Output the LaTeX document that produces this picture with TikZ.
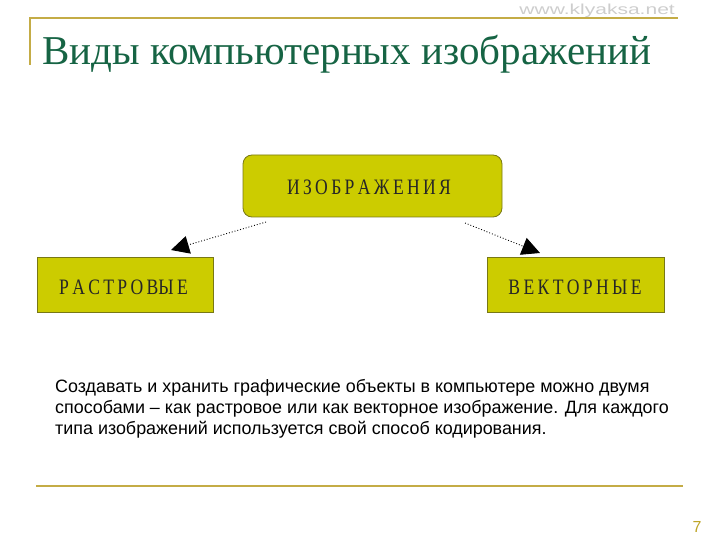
\documentclass[tikz,border=0pt]{standalone}
\usepackage{fontspec}
\setmainfont{Liberation Serif}
\setsansfont{Liberation Sans}
\usetikzlibrary{arrows.meta}
\definecolor{gold}{RGB}{196,172,70}
\definecolor{titlegreen}{RGB}{22,100,68}
\definecolor{boxfill}{RGB}{204,204,0}
\definecolor{boxline}{RGB}{120,120,20}
\definecolor{wmark}{RGB}{205,205,205}
\definecolor{pagenum}{RGB}{190,165,40}
\newcommand{\cattxt}[1]{\scalebox{0.8}[1]{\spaceskip=0.19em\relax #1}}
\tikzset{
  goldline/.style={draw=gold,line width=2pt},
  catbox/.style={fill=boxfill,draw=boxline,line width=0.8pt,inner sep=0pt},
  cattext/.style={font=\fontsize{22}{24}\selectfont,text=black!85},
  link/.style={dotted,line width=0.9pt,-{Triangle[length=18pt,width=18pt]}}
}
\begin{document}
\begin{tikzpicture}[x=1pt,y=-1pt]
\useasboundingbox (0,0) rectangle (720,540);
% frame lines
\draw[goldline] (30,65) -- (30,18) -- (678,18);
\draw[goldline] (36,486) -- (683,486);
% watermark
\node[text=wmark,font=\sffamily\fontsize{14.5}{14.5}\selectfont,anchor=east,inner sep=0pt] (wm) at (675,11) {\scalebox{1.45}[1]{www.klyaksa.net}};
% title
\node[text=titlegreen,font=\fontsize{41}{43}\selectfont,anchor=base west,inner sep=0pt] (title) at (42,65) {Виды компьютерных изображений};
% boxes
\node[catbox,rounded corners=9pt,minimum width=259pt,minimum height=62pt] (img) at (372.5,186) {};
\node[cattext] (imgt) at (369,187) {\cattxt{И З О Б Р А Ж Е Н И Я}};
\node[catbox,minimum width=176pt,minimum height=55pt] (ras) at (125,284.5) {};
\node[cattext] (rast) at (123.5,287) {\cattxt{Р А С Т Р О ВЫ Е}};
\node[catbox,minimum width=177pt,minimum height=55pt] (vec) at (575.5,284.5) {};
\node[cattext] (vect) at (575,287) {\cattxt{В Е К Т О Р Н Ы Е}};
% connectors
\coordinate (la) at (266,222);
\coordinate (lb) at (171,250);
\coordinate (ra) at (465,223);
\coordinate (rb) at (540,253);
\draw[link] (la) -- (lb);
\draw[link] (ra) -- (rb);
% body text
\node[font=\sffamily\fontsize{17.9}{21}\selectfont,anchor=north west,inner sep=0pt,align=left] (body) at (55,379)
{Создавать и хранить графические объекты в компьютере можно двумя\\
способами – как растровое или как векторное изображение. Для каждого\\
типа изображений используется свой способ кодирования.};
% page number
\node[text=pagenum,font=\sffamily\fontsize{16}{16}\selectfont,inner sep=0pt] (pn) at (697,527) {7};
\end{tikzpicture}
\end{document}
